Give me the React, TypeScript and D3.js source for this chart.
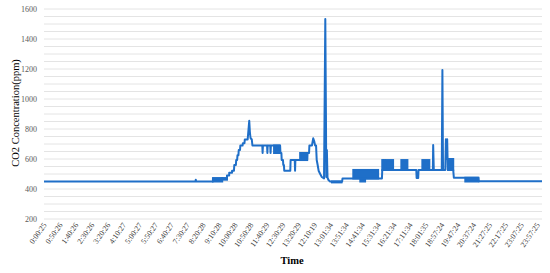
import React, { useRef, useEffect } from "react";
import { select, scaleLinear, line, range } from "d3";

// time stamps shown on the category axis, one every 50 samples
const timeLabels = [
  "0:00:25", "0:50:26", "1:40:26", "2:30:26", "3:20:26", "4:10:27", "5:00:27", "5:50:27",
  "6:40:27", "7:30:27", "8:20:28", "9:10:28", "10:00:28", "10:50:28", "11:40:29", "12:30:29",
  "13:20:29", "12:10:19", "13:01:34", "13:51:34", "14:41:34", "15:31:34", "16:21:34", "17:11:34",
  "18:01:35", "18:57:24", "19:47:24", "20:37:24", "21:27:25", "22:17:25", "23:07:25", "23:57:25",
];
const labelEvery = 50;
const sampleCount = 1566;

const yLabels = [200, 400, 600, 800, 1000, 1200, 1400, 1600];

// [sample index, CO2 ppm] where the reading changes
const co2Points: [number, number][] = [
  [0, 450], [476, 450], [477, 462], [478, 450],
  [531, 450], [531, 472], [575, 472], [575, 490], [582, 490], [582, 508],
  [591, 508], [591, 522], [597, 522], [598, 560], [603, 560], [604, 593],
  [607, 593], [608, 625], [611, 625], [612, 660], [616, 660], [617, 690],
  [624, 690], [625, 705], [630, 705], [631, 730], [640, 730], [642, 780],
  [645, 855], [647, 780], [649, 740], [653, 730], [655, 690],
  [686, 690], [687, 640], [688, 690], [701, 690], [702, 640], [703, 690],
  [711, 690], [712, 640], [713, 690], [742, 690], [743, 640], [746, 640],
  [747, 593], [751, 593], [752, 560], [754, 560], [755, 522], [774, 522],
  [775, 593], [788, 593], [789, 522], [790, 593], [827, 593], [828, 640],
  [833, 640], [834, 690], [842, 690], [846, 738], [849, 720], [852, 690],
  [855, 690], [856, 640], [857, 593], [860, 560], [863, 522], [868, 500],
  [873, 480], [880, 470], [882, 1000], [884, 1533], [886, 900], [887, 480],
  [888, 560], [889, 660], [890, 560], [891, 475], [894, 460], [899, 450],
  [937, 450], [938, 470], [1062, 470], [1063, 527], [1170, 527], [1171, 473],
  [1176, 473], [1177, 527], [1222, 527], [1223, 693], [1225, 527],
  [1250, 527], [1252, 1193], [1254, 527], [1261, 527], [1263, 731],
  [1265, 600], [1267, 731], [1269, 527], [1286, 527], [1288, 475],
  [1365, 475], [1366, 452], [1565, 452],
];

// stretches where the reading flips quickly between two levels: [from, to, low, high]
const denseBlocks: [number, number, number, number][] = [
  [531, 560, 450, 472],
  [560, 575, 462, 472],
  [723, 740, 640, 690],
  [805, 827, 593, 640],
  [905, 935, 444, 450],
  [972, 1050, 470, 527],
  [994, 1009, 450, 470],
  [1063, 1066, 527, 593],
  [1068, 1071, 527, 593],
  [1074, 1097, 527, 593],
  [1123, 1142, 527, 593],
  [1189, 1211, 527, 593],
  [1270, 1286, 527, 600],
  [1324, 1365, 450, 475],
];

const lineColor = "#1f6fc8";
const font = "'Liberation Serif', 'Times New Roman', serif";

function Co2Chart() {
  const svgRef = useRef<SVGSVGElement>(null);

  useEffect(() => {
    const svg = select(svgRef.current);
    svg.selectAll("*").remove();

    const x = scaleLinear().domain([0, sampleCount - 1]).range([44, 542]);
    const y = scaleLinear().domain([200, 1600]).range([219, 9]);

    // light gridlines every 50 ppm
    svg
      .append("g")
      .selectAll("line")
      .data(range(200, 1601, 50))
      .join("line")
      .attr("x1", 44)
      .attr("x2", 542)
      .attr("y1", (d) => y(d))
      .attr("y2", (d) => y(d))
      .attr("stroke", "#e4e4e4")
      .attr("stroke-width", 1);

    svg
      .append("g")
      .selectAll("text")
      .data(yLabels)
      .join("text")
      .attr("x", 37)
      .attr("y", (d) => y(d))
      .attr("dy", "0.35em")
      .attr("text-anchor", "end")
      .attr("font-family", font)
      .attr("font-size", 8)
      .attr("fill", "#595959")
      .text((d) => d);

    svg
      .append("g")
      .selectAll("text")
      .data(timeLabels)
      .join("text")
      .attr(
        "transform",
        (d, i) => `translate(${x(i * labelEvery) + 3},${225}) rotate(-55)`
      )
      .attr("text-anchor", "end")
      .attr("font-family", font)
      .attr("font-size", 7.8)
      .attr("fill", "#404040")
      .text((d) => d);

    // the fast flip stretches look like solid blocks
    svg
      .append("g")
      .selectAll("rect")
      .data(denseBlocks)
      .join("rect")
      .attr("x", (d) => x(d[0]))
      .attr("width", (d) => x(d[1]) - x(d[0]))
      .attr("y", (d) => y(d[3]))
      .attr("height", (d) => y(d[2]) - y(d[3]))
      .attr("fill", lineColor)
      .attr("stroke", lineColor)
      .attr("stroke-width", 2);

    const co2Line = line<[number, number]>()
      .x((d) => x(d[0]))
      .y((d) => y(d[1]));

    svg
      .append("path")
      .datum(co2Points)
      .attr("d", co2Line)
      .attr("fill", "none")
      .attr("stroke", lineColor)
      .attr("stroke-width", 2)
      .attr("stroke-linejoin", "round");

    svg
      .append("text")
      .attr("transform", "translate(15,113) rotate(-90)")
      .attr("text-anchor", "middle")
      .attr("dy", "0.35em")
      .attr("font-family", font)
      .attr("font-size", 10.5)
      .attr("fill", "#000")
      .text("CO2 Concentration(ppm)");

    svg
      .append("text")
      .attr("x", 292)
      .attr("y", 264)
      .attr("text-anchor", "middle")
      .attr("font-family", font)
      .attr("font-size", 10.5)
      .attr("font-weight", "bold")
      .attr("fill", "#000")
      .text("Time");
  }, []);

  return (
    <svg
      ref={svgRef}
      width={550}
      height={273}
      style={{ position: "absolute", left: 0, top: 0, background: "#fff" }}
    ></svg>
  );
}

export default function App() {
  return <Co2Chart />;
}
